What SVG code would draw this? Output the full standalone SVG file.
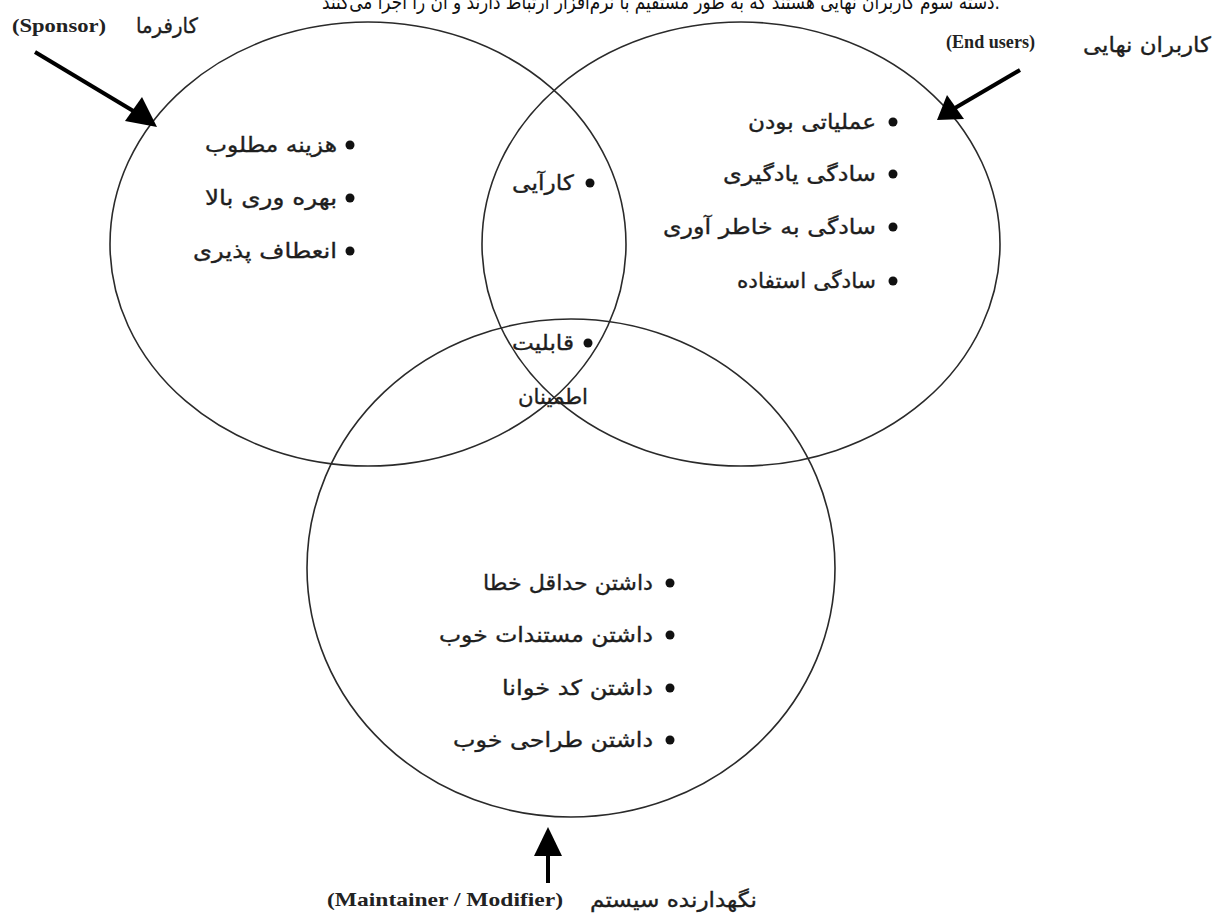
<svg xmlns="http://www.w3.org/2000/svg" width="1213" height="914" viewBox="0 0 1213 914">
<defs>
<style>
.ring{fill:none;stroke:#2a2a2a;stroke-width:1.6}
.fa{font-family:"DejaVu Sans","Noto Sans",sans-serif;font-size:21px;fill:#1e1e1e;stroke:#1e1e1e;stroke-width:0.35}
.top{font-family:"DejaVu Sans","Noto Sans",sans-serif;font-size:20px;fill:#111}
.en{font-family:"Liberation Serif","Times New Roman",serif;font-size:19px;font-weight:bold;fill:#222}
.dot{fill:#111}
.arr{stroke:#000;stroke-width:4;fill:none}
.head{fill:#000}
</style>
</defs>
<rect width="1213" height="914" fill="#fff"/>
<text class="top" x="1000" y="9" text-anchor="end" textLength="678" lengthAdjust="spacingAndGlyphs">دسته سوم کاربران نهایی هستند که به طور مستقیم با نرم‌افزار ارتباط دارند و آن را اجرا می‌کنند.</text>
<g id="circle-sponsor">
<ellipse class="ring" cx="368" cy="244" rx="258" ry="222"/>
<circle class="dot" cx="350" cy="145" r="4.5"/>
<text class="fa" x="337" y="152" text-anchor="end" textLength="132" lengthAdjust="spacingAndGlyphs">هزینه مطلوب</text>
<circle class="dot" cx="350" cy="198" r="4.5"/>
<text class="fa" x="337" y="205" text-anchor="end" textLength="132" lengthAdjust="spacingAndGlyphs">بهره وری بالا</text>
<circle class="dot" cx="350" cy="251" r="4.5"/>
<text class="fa" x="337" y="258" text-anchor="end" textLength="144" lengthAdjust="spacingAndGlyphs">انعطاف پذیری</text>
</g>
<g id="circle-endusers">
<ellipse class="ring" cx="741" cy="244" rx="259" ry="222"/>
<circle class="dot" cx="893" cy="122" r="4.5"/>
<text class="fa" x="876" y="129" text-anchor="end" textLength="128" lengthAdjust="spacingAndGlyphs">عملیاتی بودن</text>
<circle class="dot" cx="893" cy="174" r="4.5"/>
<text class="fa" x="876" y="181" text-anchor="end" textLength="153" lengthAdjust="spacingAndGlyphs">سادگی یادگیری</text>
<circle class="dot" cx="893" cy="227" r="4.5"/>
<text class="fa" x="876" y="234" text-anchor="end" textLength="213" lengthAdjust="spacingAndGlyphs">سادگی به خاطر آوری</text>
<circle class="dot" cx="893" cy="281" r="4.5"/>
<text class="fa" x="876" y="288" text-anchor="end" textLength="139" lengthAdjust="spacingAndGlyphs">سادگی استفاده</text>
</g>
<g id="circle-maintainer">
<ellipse class="ring" cx="571" cy="568" rx="264" ry="249"/>
<circle class="dot" cx="670" cy="583" r="4.5"/>
<text class="fa" x="653" y="590" text-anchor="end" textLength="170" lengthAdjust="spacingAndGlyphs">داشتن حداقل خطا</text>
<circle class="dot" cx="670" cy="635" r="4.5"/>
<text class="fa" x="653" y="642" text-anchor="end" textLength="214" lengthAdjust="spacingAndGlyphs">داشتن مستندات خوب</text>
<circle class="dot" cx="670" cy="688" r="4.5"/>
<text class="fa" x="653" y="695" text-anchor="end" textLength="151" lengthAdjust="spacingAndGlyphs">داشتن کد خوانا</text>
<circle class="dot" cx="670" cy="740" r="4.5"/>
<text class="fa" x="653" y="747" text-anchor="end" textLength="200" lengthAdjust="spacingAndGlyphs">داشتن طراحی خوب</text>
</g>
<g id="overlap-sponsor-endusers">
<circle class="dot" cx="590" cy="183" r="4.5"/>
<text class="fa" x="574" y="190" text-anchor="end" textLength="62" lengthAdjust="spacingAndGlyphs">کارآیی</text>
</g>
<g id="overlap-all">
<circle class="dot" cx="588" cy="343" r="4.5"/>
<text class="fa" x="574" y="350" text-anchor="end" textLength="62" lengthAdjust="spacingAndGlyphs">قابلیت</text>
<text class="fa" x="588" y="404" text-anchor="end" textLength="70" lengthAdjust="spacingAndGlyphs">اطمینان</text>
</g>
<g id="label-sponsor">
<text class="en" x="12" y="32" textLength="94" lengthAdjust="spacingAndGlyphs">(Sponsor)</text>
<text class="fa" x="198" y="33" text-anchor="end" textLength="62" lengthAdjust="spacingAndGlyphs">کارفرما</text>
</g>
<g id="label-endusers">
<text class="en" x="946" y="48" textLength="89" lengthAdjust="spacingAndGlyphs">(End users)</text>
<text class="fa" x="1211" y="52" text-anchor="end" textLength="128" lengthAdjust="spacingAndGlyphs">کاربران نهایی</text>
</g>
<g id="label-maintainer">
<text class="en" x="327" y="906" textLength="236" lengthAdjust="spacingAndGlyphs">(Maintainer / Modifier)</text>
<text class="fa" x="757" y="907" text-anchor="end" textLength="167" lengthAdjust="spacingAndGlyphs">نگهدارنده سیستم</text>
</g>
<g id="connectors">
<line class="arr" x1="35" y1="52" x2="135" y2="112"/>
<polygon class="head" points="157,127 125,121 142,97"/>
<line class="arr" x1="1020" y1="70" x2="955" y2="108"/>
<polygon class="head" points="937,120 947,95 964,119"/>
<line class="arr" x1="548" y1="883" x2="548" y2="852"/>
<polygon class="head" points="548,827 534,856 562,856"/>
</g>
</svg>
